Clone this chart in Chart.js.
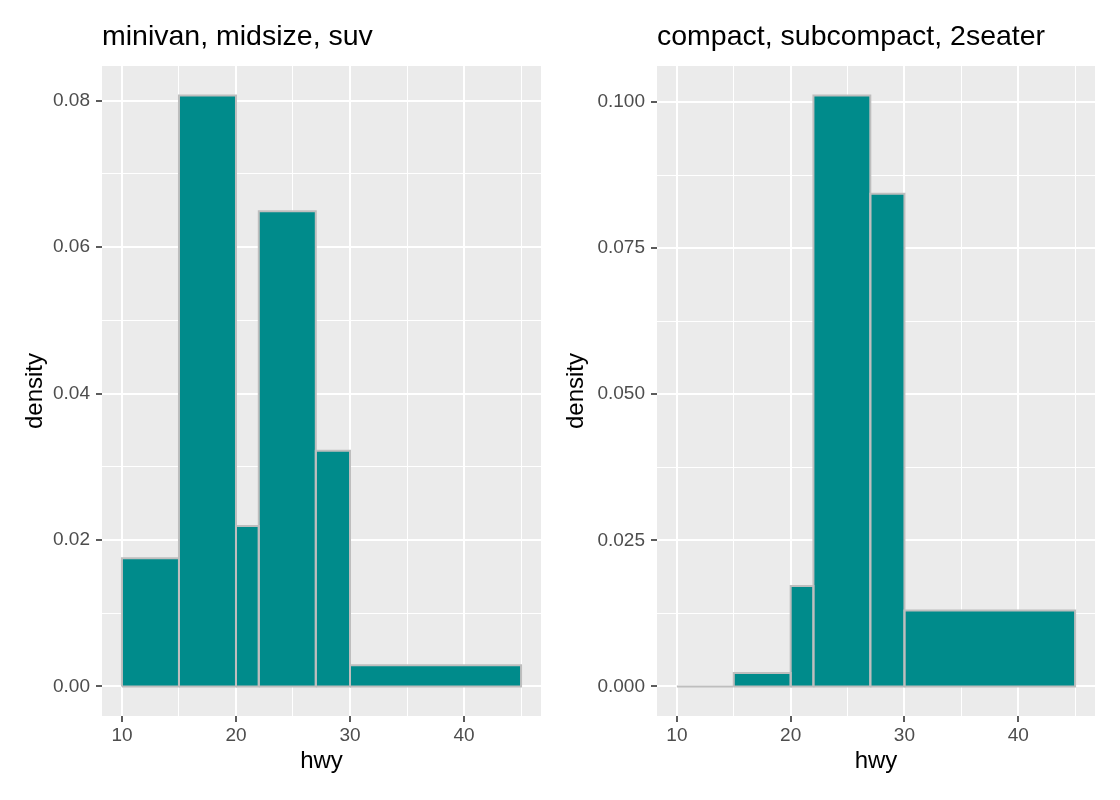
<!DOCTYPE html>
<html>
<head>
<meta charset="utf-8">
<script src="https://cdn.jsdelivr.net/npm/chart.js@4.4.1/dist/chart.umd.min.js"></script>
<style>
  body { margin: 0; background: #ffffff; }
  .panel { position: absolute; top: 0; width: 560px; height: 800px; }
</style>
</head>
<body>
<div class="panel" style="left:0"><canvas id="leftChart"></canvas></div>
<div class="panel" style="left:560px"><canvas id="rightChart"></canvas></div>
<script>
// hwy bin edges and density per bin
const breaks = [10, 15, 20, 22, 27, 30, 45];
const densityLeft = [0.0175, 0.0807, 0.0219, 0.0649, 0.0322, 0.0029];
const densityRight = [0, 0.0023, 0.0172, 0.1011, 0.0843, 0.0130];

const titleLeft = "minivan, midsize, suv";
const titleRight = "compact, subcompact, 2seater";

const xMajor = [10, 20, 30, 40];
const xMinor = [15, 25, 35, 45];
const xLabels = ["10", "20", "30", "40"];

const yMajorLeft = [0, 0.02, 0.04, 0.06, 0.08];
const yMinorLeft = [0.01, 0.03, 0.05, 0.07];
const yLabelsLeft = ["0.00", "0.02", "0.04", "0.06", "0.08"];

const yMajorRight = [0, 0.025, 0.05, 0.075, 0.1];
const yMinorRight = [0.0125, 0.0375, 0.0625, 0.0875];
const yLabelsRight = ["0.000", "0.025", "0.050", "0.075", "0.100"];

const FONT = "'Liberation Sans', Arial, Helvetica, sans-serif";

// grey panel behind the grid
const panelBg = {
    id: "panelBg",
    beforeDraw(chart) {
        const { ctx, chartArea: a } = chart;
        ctx.save();
        ctx.fillStyle = "#ebebeb";
        ctx.fillRect(a.left, a.top, a.right - a.left, a.bottom - a.top);
        ctx.restore();
    }
};

// ggplot-like expansion of 5% on each side
function expand(lo, hi) {
    const pad = (hi - lo) * 0.05;
    return [lo - pad, hi + pad];
}

function gridOpts(major) {
    return {
        color: "#ffffff",
        lineWidth: ctx => major.includes(ctx.tick.value) ? 2 : 1,
        tickColor: ctx => major.includes(ctx.tick.value) ? "#333333" : "rgba(0,0,0,0)",
        tickLength: 6,
        tickWidth: 1.6
    };
}

function makePanel(id, title, density, yMajor, yMinor, yLabels, geom) {
    const ctx = document.getElementById(id).getContext("2d");

    // fills first (drawn behind), then the grey outline of each bin
    const fills = density.map((d, i) => ({
        data: [{ x: breaks[i], y: d }, { x: breaks[i + 1], y: d }],
        backgroundColor: "#008b8b",
        borderWidth: 0,
        fill: "origin",
        order: 2
    }));
    const outlines = density.map((d, i) => ({
        data: [
            { x: breaks[i], y: 0 }, { x: breaks[i], y: d },
            { x: breaks[i + 1], y: d }, { x: breaks[i + 1], y: 0 },
            { x: breaks[i], y: 0 }
        ],
        borderColor: "#bebebe",
        borderWidth: 2,
        fill: false,
        order: 1
    }));

    const [xMin, xMax] = expand(breaks[0], breaks[breaks.length - 1]);
    const [yMin, yMax] = expand(0, Math.max(...density));

    new Chart(ctx, {
        type: "line",
        data: { datasets: fills.concat(outlines) },
        plugins: [panelBg],
        options: {
            responsive: true,
            maintainAspectRatio: false,
            animation: false,
            elements: { point: { radius: 0 }, line: { tension: 0 } },
            layout: { padding: { top: 0, left: 0, right: geom.padRight, bottom: 0 } },
            plugins: {
                legend: { display: false },
                tooltip: { enabled: false },
                title: {
                    display: true,
                    text: title,
                    align: "start",
                    fullSize: false,
                    color: "#000000",
                    font: { family: FONT, size: 28.5, weight: "normal", lineHeight: 1.2 },
                    padding: { top: 19.7, bottom: 12.1 }
                }
            },
            scales: {
                x: {
                    type: "linear",
                    min: xMin,
                    max: xMax,
                    afterBuildTicks: s => { s.ticks = xMajor.concat(xMinor).map(v => ({ value: v })); },
                    afterFit: s => { s.height = 84; },
                    border: { display: false },
                    grid: gridOpts(xMajor),
                    ticks: {
                        autoSkip: false,
                        maxRotation: 0,
                        padding: 2,
                        color: "#4d4d4d",
                        font: { family: FONT, size: 19 },
                        callback: v => { const i = xMajor.indexOf(v); return i >= 0 ? xLabels[i] : ""; }
                    },
                    title: {
                        display: true,
                        text: "hwy",
                        color: "#000000",
                        font: { family: FONT, size: 24 },
                        padding: { top: 0, bottom: 24.6 }
                    }
                },
                y: {
                    type: "linear",
                    min: yMin,
                    max: yMax,
                    afterBuildTicks: s => { s.ticks = yMajor.concat(yMinor).map(v => ({ value: v })); },
                    afterFit: s => { s.width = geom.yWidth; },
                    border: { display: false },
                    grid: gridOpts(yMajor),
                    ticks: {
                        autoSkip: false,
                        padding: 6,
                        color: "#4d4d4d",
                        font: { family: FONT, size: 19 },
                        callback: v => { const i = yMajor.indexOf(v); return i >= 0 ? yLabels[i] : ""; }
                    },
                    title: {
                        display: true,
                        text: "density",
                        color: "#000000",
                        font: { family: FONT, size: 24 },
                        padding: { top: geom.yTitlePad, bottom: 0 }
                    }
                }
            }
        }
    });
}

makePanel("leftChart", titleLeft, densityLeft, yMajorLeft, yMinorLeft, yLabelsLeft,
    { padRight: 19, yWidth: 102, yTitlePad: 20.6 });
makePanel("rightChart", titleRight, densityRight, yMajorRight, yMinorRight, yLabelsRight,
    { padRight: 25, yWidth: 97, yTitlePad: 2.3 });
</script>
</body>
</html>
